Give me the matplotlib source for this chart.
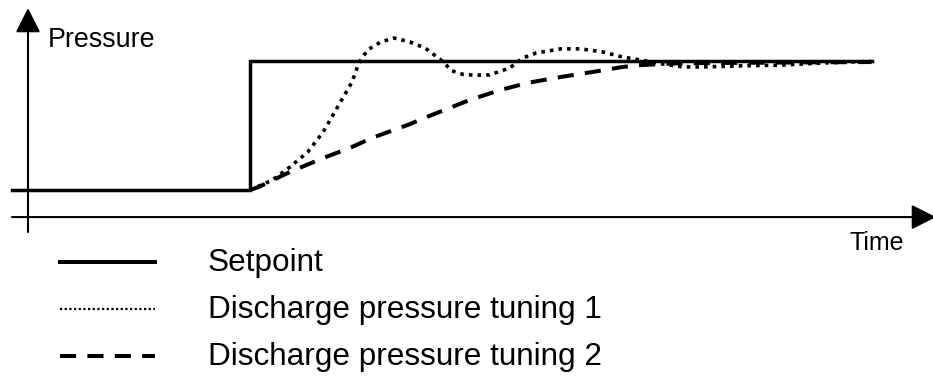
import matplotlib
matplotlib.use("Agg")
import matplotlib.pyplot as plt
from matplotlib.lines import Line2D

plt.rcParams['font.family'] = ['Liberation Sans', 'DejaVu Sans']

# Setpoint (escalon)
t_set = [-0.7, 10.0, 10.0, 38.0]
p_set = [1.0, 1.0, 6.0, 6.0]

# Ajuste 1: respuesta oscilatoria
t_tun1 = [10.0, 11.0, 11.8, 12.6, 13.3, 14.05, 14.6, 14.9, 15.3, 15.9, 16.5, 17.2,
          17.9, 18.6, 19.1, 19.6, 20.1, 20.8, 21.7, 22.3, 22.9, 24.0, 24.9, 25.9,
          26.8, 27.6, 28.3, 29.5, 30.4, 32.1, 33.9, 35.7, 37.0, 38.0]
p_tun1 = [1.0, 1.38, 1.89, 2.47, 3.25, 4.37, 5.19, 5.92, 6.43, 6.74, 6.89, 6.74,
          6.50, 6.04, 5.62, 5.48, 5.45, 5.46, 5.73, 6.12, 6.31, 6.47, 6.47, 6.35,
          6.15, 6.04, 5.92, 5.77, 5.77, 5.81, 5.84, 5.92, 5.96, 5.98]

# Ajuste 2: respuesta lenta sin sobrepaso
t_tun2 = [10.0, 10.4, 11.8, 13.3, 14.5, 15.5, 17.1, 18.2, 19.0, 19.9, 21.3, 22.5,
          24.0, 25.4, 26.8, 27.6, 28.9, 30.3, 38.0]
p_tun2 = [1.0, 1.12, 1.70, 2.24, 2.63, 3.02, 3.52, 3.91, 4.18, 4.49, 4.88, 5.15,
          5.38, 5.57, 5.77, 5.84, 5.90, 5.92, 5.96]

labels = ["Setpoint", "Discharge pressure tuning 1", "Discharge pressure tuning 2"]

fig = plt.figure(figsize=(9.33, 3.78), dpi=100)
ax = fig.add_axes([0, 0, 1, 1])
ax.axis('off')
ax.set_xlim(-1.261, 40.77)
ax.set_ylim(-6.287, 8.364)

# Ejes con flechas
arrow = dict(arrowstyle="-|>,head_length=0.75,head_width=0.38", color='black',
             lw=1.5, mutation_scale=20, shrinkA=0, shrinkB=0)
ax.annotate("", xy=(40.9, -0.05), xytext=(-0.72, -0.05), arrowprops=arrow,
            annotation_clip=False)
ax.annotate("", xy=(0, 8.05), xytext=(0, -0.63), arrowprops=arrow,
            annotation_clip=False)

ax.plot(t_set, p_set, color='black', lw=2.5, solid_joinstyle='miter')
ax.plot(t_tun1, p_tun1, color='black', lw=2.6, linestyle=(0, (1, 1.4)),
        dash_capstyle='butt')
ax.plot(t_tun2, p_tun2, color='black', lw=2.9, linestyle=(0, (4, 2.8)),
        dash_capstyle='butt')

fig.text(48 / 933, 1 - 47 / 378, "Pressure", fontsize=19.4, va='baseline')
fig.text(849 / 933, 1 - 250 / 378, "Time", fontsize=18, va='baseline')

handles = [
    Line2D([], [], color='black', lw=2.9),
    Line2D([], [], color='black', lw=1.6, linestyle=(0, (1, 1.1))),
    Line2D([], [], color='black', lw=2.9, linestyle=(0, (4, 2.8))),
]
ax.legend(handles, labels, loc='upper left', bbox_to_anchor=(60 / 933, 1 - 248 / 378),
          bbox_transform=fig.transFigure, frameon=False, fontsize=22.7,
          borderpad=0, borderaxespad=0, handlelength=3.0, handletextpad=1.68,
          handleheight=0.3, labelspacing=0.54)

fig.savefig("out.png", dpi=100)
